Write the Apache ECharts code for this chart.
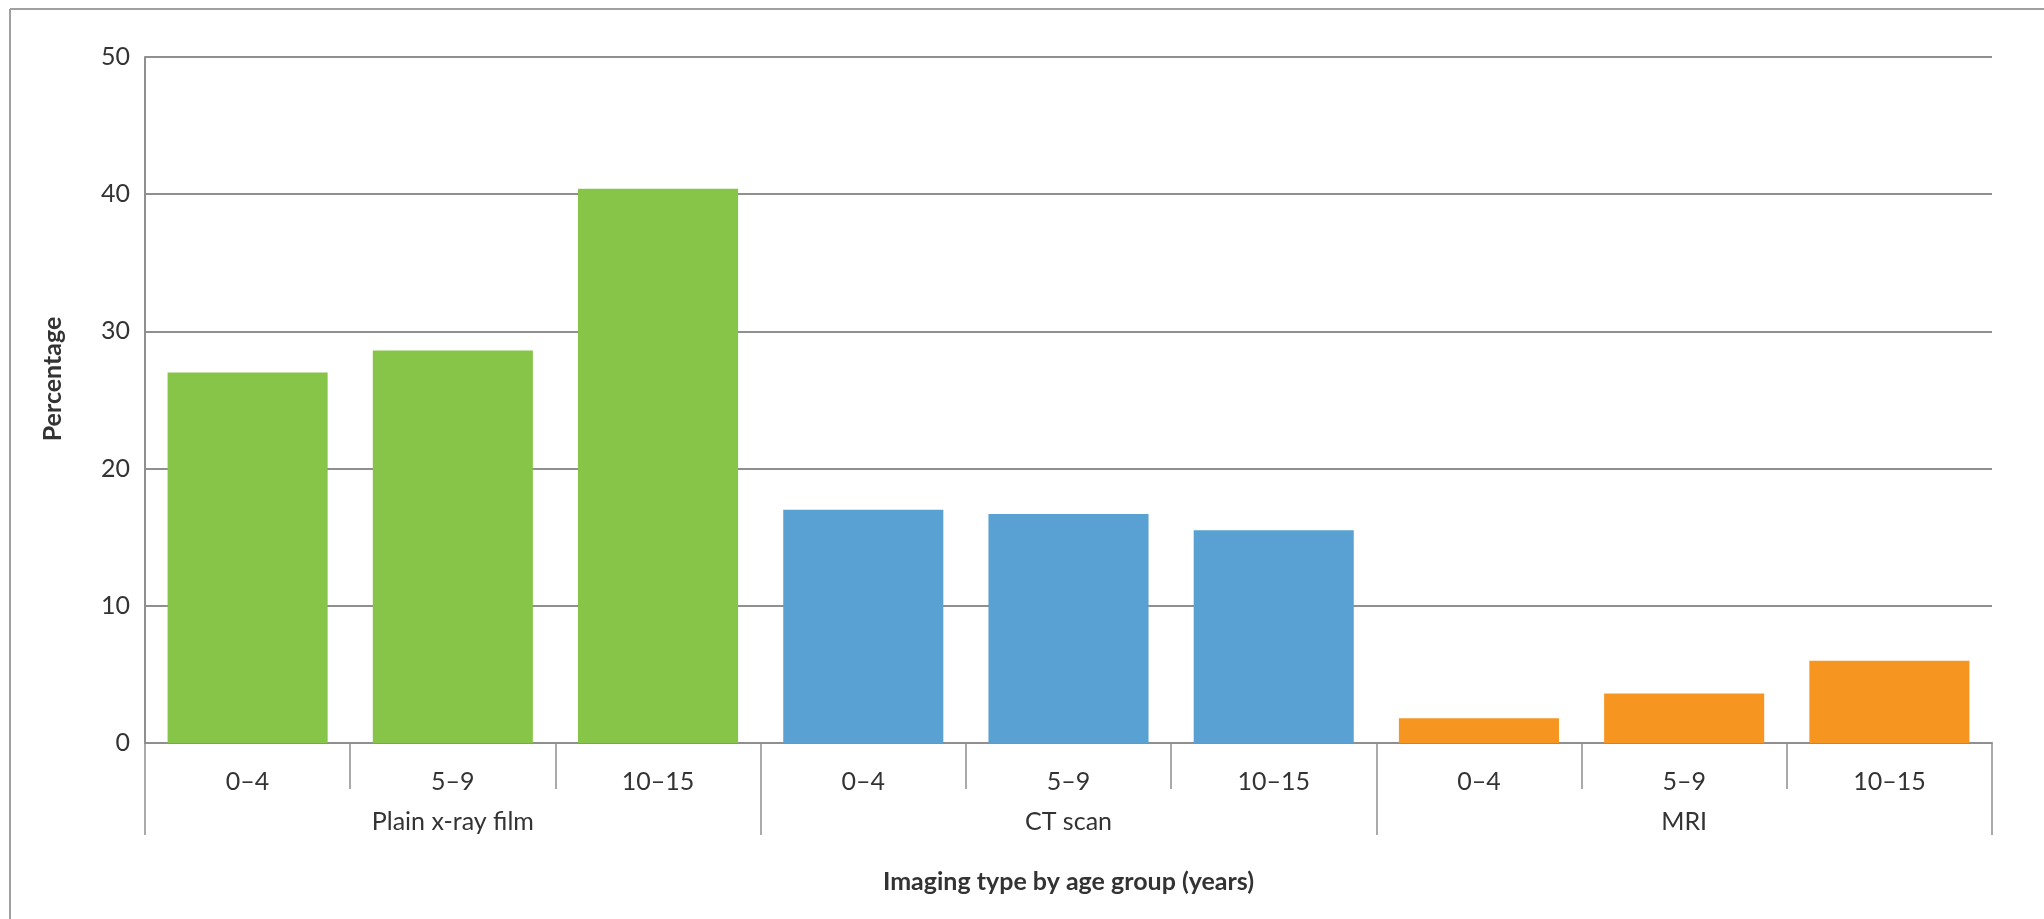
<!DOCTYPE html>
<html><head><meta charset="utf-8">
<script src="https://cdn.jsdelivr.net/npm/echarts@6/dist/echarts.min.js"></script>
<style>html,body{margin:0;padding:0;background:#fff}#c{width:2044px;height:919px}</style>
</head><body><div id="c"></div>
<script>
const groups = ['Plain x-ray film', 'CT scan', 'MRI'];
const ageGroups = ['0\u20134', '5\u20139', '10\u201315'];
const plainXray = [27.0, 28.6, 40.4];
const ctScan = [17.0, 16.7, 15.5];
const mri = [1.8, 3.6, 6.0];
const groupColors = ['#86c548', '#59a1d3', '#f69621'];
const yTicks = [0, 10, 20, 30, 40, 50];

const seriesValues = [plainXray, ctScan, mri];
const categories = [];
const barData = [];
groups.forEach((g, gi) => {
  ageGroups.forEach((a, ai) => {
    categories.push(a);
    barData.push({ value: seriesValues[gi][ai], itemStyle: { color: groupColors[gi] } });
  });
});

const FONT = 'Lato';
const FS = 25;
const lineColor = '#8f8f8f';
const textColor = '#333333';

const chart = echarts.init(document.getElementById('c'), null, { renderer: 'canvas' });
chart.setOption({
  animation: false,
  backgroundColor: '#fff',
  grid: { left: 145, right: 52, top: 57, bottom: 176, containLabel: false },
  graphic: [
    { type: 'line', shape: { x1: 10, y1: 9, x2: 2044, y2: 9 }, style: { stroke: '#a0a0a0', lineWidth: 2 } },
    { type: 'line', shape: { x1: 10, y1: 9, x2: 10, y2: 919 }, style: { stroke: '#a0a0a0', lineWidth: 2 } }
  ],
  xAxis: [
    {
      type: 'category', data: categories, position: 'bottom',
      axisLine: { show: true, lineStyle: { color: lineColor, width: 2 } },
      axisTick: { show: true, length: 46, interval: 0, lineStyle: { color: lineColor, width: 1.5 } },
      axisLabel: { interval: 0, margin: 26, color: textColor, fontFamily: FONT, fontSize: FS },
      name: 'Imaging type by age group (years)', nameLocation: 'middle', nameGap: 126,
      nameTextStyle: { color: textColor, fontFamily: FONT, fontSize: FS, fontWeight: 'bold' }
    },
    {
      type: 'category', data: groups, position: 'bottom',
      axisLine: { show: false },
      axisTick: { show: true, length: 92, interval: 0, lineStyle: { color: lineColor, width: 1.5 } },
      axisLabel: { interval: 0, margin: 66, color: textColor, fontFamily: FONT, fontSize: FS },
      splitLine: { show: false }
    }
  ],
  yAxis: {
    type: 'value', min: 0, max: 50, interval: 10,
    axisLine: { show: true, lineStyle: { color: lineColor, width: 2 } },
    axisTick: { show: false },
    axisLabel: { margin: 15, color: textColor, fontFamily: FONT, fontSize: FS,
      formatter: v => yTicks.includes(v) ? String(v) : '' },
    splitLine: { show: true, lineStyle: { color: lineColor, width: 2 } },
    name: 'Percentage', nameLocation: 'middle', nameGap: 80, nameRotate: 90,
    nameTextStyle: { color: textColor, fontFamily: FONT, fontSize: FS, fontWeight: 'bold',
      padding: [0, 0, 0, 42] }
  },
  series: [{
    type: 'bar', xAxisIndex: 0, yAxisIndex: 0, data: barData,
    barCategoryGap: '22%'
  }]
});
</script>
</body></html>
